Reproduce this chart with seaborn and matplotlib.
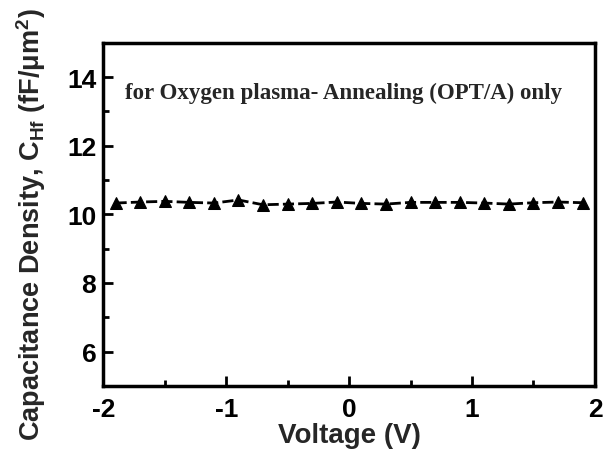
import matplotlib
matplotlib.use("Agg")
import matplotlib.pyplot as plt
import numpy as np
import pandas as pd
import seaborn as sns
from matplotlib.ticker import MultipleLocator

# data
voltage = [-1.9, -1.7, -1.5, -1.3, -1.1, -0.9, -0.7, -0.5, -0.3, -0.1,
           0.1, 0.3, 0.5, 0.7, 0.9, 1.1, 1.3, 1.5, 1.7, 1.9]
cap_density = [10.33, 10.36, 10.38, 10.35, 10.33, 10.42, 10.28, 10.30, 10.32, 10.36,
               10.32, 10.30, 10.35, 10.35, 10.35, 10.33, 10.30, 10.34, 10.36, 10.34]
x_ticks = [-2, -1, 0, 1, 2]
y_ticks = [6, 8, 10, 12, 14]

df = pd.DataFrame({"V": voltage, "C": cap_density})

sns.set_theme(style="ticks")
plt.rcParams["font.family"] = ["Liberation Sans", "DejaVu Sans"]
plt.rcParams["axes.unicode_minus"] = False
plt.rcParams["mathtext.fontset"] = "custom"
plt.rcParams["mathtext.bf"] = "Liberation Sans:bold"
plt.rcParams["mathtext.rm"] = "Liberation Sans:bold"

fig = plt.figure(figsize=(6.04, 4.52), dpi=100)
ax = fig.add_axes([0.171, 0.144, 0.814, 0.759])

sns.lineplot(data=df, x="V", y="C", ax=ax, color="black", linestyle="--",
             linewidth=2, marker="^", markersize=9, markeredgecolor="black",
             dashes=False)
ax.lines[0].set_linestyle((0, (4, 1.5)))

ax.set_xlim(-2, 2)
ax.set_ylim(5, 15)
ax.set_xticks(x_ticks)
ax.set_yticks(y_ticks)
ax.xaxis.set_minor_locator(MultipleLocator(0.5))
ax.yaxis.set_minor_locator(MultipleLocator(1))
ax.tick_params(which="both", direction="in", width=2, colors="black",
               labelsize=19)
ax.tick_params(which="major", length=7, pad=5)
ax.tick_params(axis="x", which="major", pad=8)
ax.tick_params(which="minor", length=4)
for lab in ax.get_xticklabels() + ax.get_yticklabels():
    lab.set_fontweight("bold")
for s in ax.spines.values():
    s.set_visible(True)
    s.set_linewidth(2.5)
    s.set_color("black")

ax.set_xlabel("Voltage (V)", fontsize=20, fontweight="bold")
ax.xaxis.set_label_coords(0.5, -0.105)
ax.set_ylabel(r"Capacitance Density, C$_{\mathbf{Hf}}$ (fF/μm$^{\mathbf{2}}$)",
              fontsize=19.5, fontweight="bold")
ax.yaxis.set_label_coords(-0.112, 0.472)

ax.text(0.045, 0.855, "for Oxygen plasma- Annealing (OPT/A) only",
        transform=ax.transAxes, fontsize=16.5, fontweight="bold",
        family=["Liberation Serif", "DejaVu Serif"], va="center", ha="left")

fig.savefig("out.png", dpi=100)
